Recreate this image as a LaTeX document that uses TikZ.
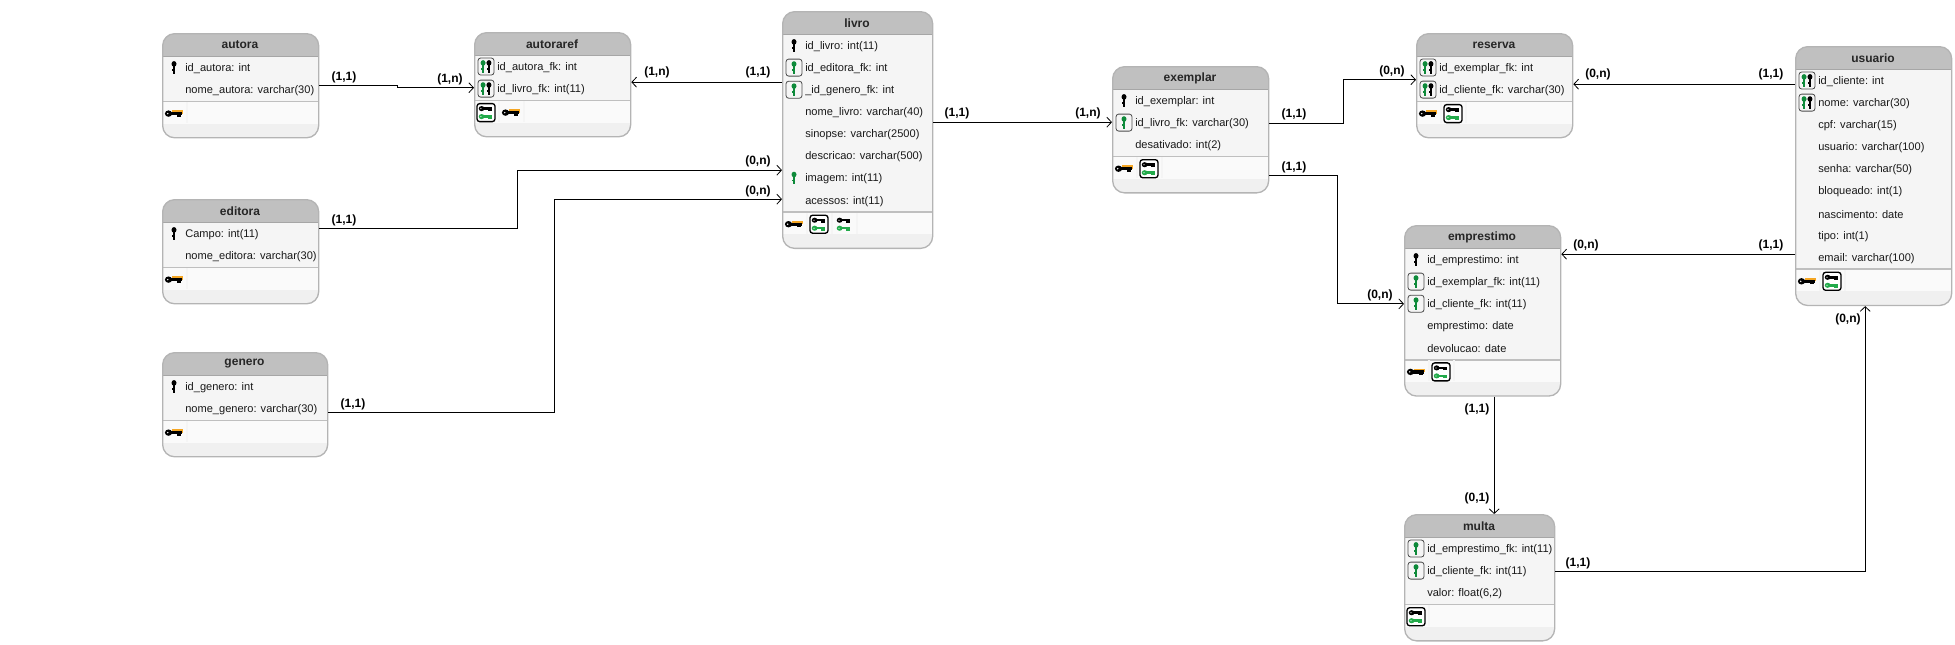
\documentclass[tikz,border=0pt]{standalone}
\usepackage{fontspec}
\setmainfont{Liberation Sans}
\usetikzlibrary{calc,arrows.meta}

\definecolor{headgray}{HTML}{C0C0C0}
\definecolor{bodygray}{HTML}{F5F5F5}
\definecolor{linegray}{HTML}{B4B4B4}
\definecolor{keygreen}{HTML}{0E8A3A}
\definecolor{lightgreen}{HTML}{22AA4A}
\definecolor{keyorange}{HTML}{F5A623}

\tikzset{
  entity/.style={
    draw=linegray,
    line width=1pt,
    rounded corners=9,
    inner sep=0pt,
    anchor=north west,
    fill=bodygray
  },
  entitytitle/.style={font=\bfseries\fontsize{9}{10}\selectfont,text=black!85},
  rowtext/.style={anchor=west,inner sep=0pt,font=\fontsize{8.3}{10}\selectfont,text=black!90},
  card/.style={font=\bfseries\fontsize{9}{10}\selectfont,inner sep=0pt,xshift=.7pt,yshift=-.8pt},
  relation/.style={draw=black,line width=.85pt,->,>={Straight Barb[length=3.5pt,width=7.5pt,line width=.6pt]}},
  keyv/.pic={
    \fill[#1] (0,-3.6) ellipse (2.5 and 2.8);
    \fill[#1] (-1.2,-2) rectangle (1.2,6);
    \fill[#1] (-2,1.6) rectangle (0,3);
  },
  keyh/.pic={
    \fill[#1] (-5.5,0) ellipse (3.6 and 3.2);
    \fill[#1] (-4,-1.6) rectangle (8,1.6);
    \fill[#1] (3,0) rectangle (7,3);
    \fill[white] (-6.3,0) circle (.8);
  },
  rownone/.pic={},
  rowpk/.pic={\pic {keyv=black};},
  rowix/.pic={\pic {keyv=keygreen};},
  rowfk/.pic={
    \draw[black!70,line width=.6pt,rounded corners=2] (-8,-8.5) rectangle (8,8.5);
    \pic {keyv=keygreen};
  },
  rowpf/.pic={
    \draw[black!70,line width=.6pt,rounded corners=2] (-8,-8.5) rectangle (8,8.5);
    \pic[xshift=-2.2pt] {keyv=keygreen};
    \pic[xshift=2.2pt] {keyv=black};
  },
  footnone/.pic={},
  footpk/.pic={
    \fill[keyorange] (-2,-3.4) rectangle (8.5,0);
    \pic {keyh=black};
  },
  footboth/.pic={
    \pic[yshift=3pt,scale=.8] {keyh=black};
    \pic[yshift=-3pt,scale=.8] {keyh=lightgreen};
  },
  footbox/.pic={
    \draw[black,line width=1pt,fill=white,rounded corners=2] (-9,-9) rectangle (9,9);
    \pic {footboth};
  }
}

\newcommand{\entity}[8]{
  \pgfmathsetmacro{\entityh}{82+22.1*(#5-1)}
  \pgfmathsetmacro{\entitysep}{46+22.1*(#5-1)}
  \node[
    entity,
    minimum width=#4*.75pt,
    minimum height=\entityh*.75pt,
    path picture={
      \coordinate (pp) at (path picture bounding box.north west);
      \fill[sharp corners,headgray] (pp) rectangle ++(#4,22);
      \fill[sharp corners,black!35] ($(pp)+(0,22)$) rectangle ++(#4,1.4);
      \fill[sharp corners,black!6] ($(pp)+(0,\entityh-14)$) rectangle ++(#4,14);
      \fill[sharp corners,white!98!black] ($(pp)+(0,\entitysep)$) rectangle ++(#4,22);
      \fill[sharp corners,black!25] ($(pp)+(0,\entitysep-1)$) rectangle ++(#4,1.6);
    }
  ] (#1) at (#2,#3) {};
  \node[entitytitle] (#1-title) at ({#2+#4/2},{#3+12}) {#6};
  \foreach \ic/\txt [count=\i] in {#7} {
    \pic at ({#2+12},{#3+34.5+22.1*(\i-1)}) {row\ic};
    \node[rowtext] (#1-\i) at ({#2+23},{#3+35.5+22.1*(\i-1)}) {\txt};
  }
  \foreach \ic [count=\i] in {#8} {
    \fill[bodygray] ({#2+25*\i-1},{#3+\entitysep+1}) rectangle ++(2,21);
    \pic at ({#2+25*\i-13},{#3+\entitysep+12.5}) {foot\ic};
  }
}

\begin{document}
\begin{tikzpicture}[x=.75pt,y=-.75pt]
  \useasboundingbox (0,0) rectangle (1955,644);

  \entity{autora}{162}{33}{156}{2}{autora}{pk/id\_autora: int,none/nome\_autora: varchar(30)}{pk}
  \entity{autoraref}{474}{32}{156}{2}{autoraref}{pf/id\_autora\_fk: int,pf/id\_livro\_fk: int(11)}{box,pk}
  \entity{editora}{162}{199}{156}{2}{editora}{pk/Campo: int(11),none/nome\_editora: varchar(30)}{pk}
  \entity{genero}{162}{352}{165}{2}{genero}{pk/id\_genero: int,none/nome\_genero: varchar(30)}{pk}
  \entity{livro}{782}{11}{150}{8}{livro}{pk/id\_livro: int(11),fk/id\_editora\_fk: int,fk/\_id\_genero\_fk: int,none/nome\_livro: varchar(40),none/sinopse: varchar(2500),none/descricao: varchar(500),ix/imagem: int(11),none/acessos: int(11)}{pk,box,both}
  \entity{exemplar}{1112}{66}{156}{3}{exemplar}{pk/id\_exemplar: int,fk/id\_livro\_fk: varchar(30),none/desativado: int(2)}{pk,box}
  \entity{reserva}{1416}{33}{156}{2}{reserva}{pf/id\_exemplar\_fk: int,pf/id\_cliente\_fk: varchar(30)}{pk,box}
  \entity{emprestimo}{1404}{225}{156}{5}{emprestimo}{pk/id\_emprestimo: int,fk/id\_exemplar\_fk: int(11),fk/id\_cliente\_fk: int(11),none/emprestimo: date,none/devolucao: date}{pk,box}
  \entity{multa}{1404}{514}{150}{3}{multa}{fk/id\_emprestimo\_fk: int(11),fk/id\_cliente\_fk: int(11),none/{valor: float(6,2)}}{box}
  \entity{usuario}{1795}{46}{156}{9}{usuario}{pf/id\_cliente: int,pf/nome: varchar(30),none/cpf: varchar(15),none/usuario: varchar(100),none/senha: varchar(50),none/bloqueado: int(1),none/nascimento: date,none/tipo: int(1),none/email: varchar(100)}{pk,box}

  \coordinate (livro-out) at ($(livro.west)+(0,-47.85)$);
  \coordinate (livro-in1) at ($(livro.west)+(0,40.15)$);
  \coordinate (livro-in2) at ($(livro.west)+(0,69.15)$);
  \coordinate (livro-ex) at ($(livro.east)+(0,-7.85)$);
  \coordinate (exemplar-res) at ($(exemplar.east)+(0,-6)$);
  \coordinate (exemplar-emp) at ($(exemplar.east)+(0,46)$);
  \coordinate (usuario-res) at ($(usuario.west)+(0,-91.9)$);
  \coordinate (usuario-emp) at ($(usuario.west)+(0,78.1)$);
  \coordinate (emprestimo-mul) at ($(emprestimo.south)+(11.5,0)$);
  \coordinate (multa-usu) at ($(multa.east)+(0,-6.6)$);

  \draw[relation] (autora.east) -- ++(78,0) |- ($(autoraref.west)+(0,3)$);
  \draw[relation] (livro-out) -- (livro-out -| autoraref.east);
  \draw[relation] ($(editora.east)+(0,-23)$) -- ++(198,0) |- (livro-in1);
  \draw[relation] ($(genero.east)+(0,8)$) -- ++(226,0) |- (livro-in2);
  \draw[relation] (livro-ex) -- (livro-ex -| exemplar.west);
  \draw[relation] (exemplar-res) -- ++(74,0) |- ($(reserva.west)+(0,-6)$);
  \draw[relation] (usuario-res) -- (usuario-res -| reserva.east);
  \draw[relation] (exemplar-emp) -- ++(68,0) |- ($(emprestimo.west)+(0,-7)$);
  \draw[relation] (usuario-emp) -- (usuario-emp -| emprestimo.east);
  \draw[relation] (emprestimo-mul) -- (emprestimo-mul |- multa.north);
  \draw[relation] (multa-usu) -| ($(usuario.south)+(-8.5,0)$);

  \node[card] (c1) at (343,76) {(1,1)};
  \node[card] (c2) at (449,78) {(1,n)};
  \node[card] (c3) at (656,71) {(1,n)};
  \node[card] (c4) at (757,71) {(1,1)};
  \node[card] (c5) at (343,219) {(1,1)};
  \node[card] (c6) at (757,160) {(0,n)};
  \node[card] (c7) at (757,190) {(0,n)};
  \node[card] (c8) at (352,403) {(1,1)};
  \node[card] (c9) at (956,112) {(1,1)};
  \node[card] (c10) at (1087,112) {(1,n)};
  \node[card] (c11) at (1293,113) {(1,1)};
  \node[card] (c12) at (1391,70) {(0,n)};
  \node[card] (c13) at (1597,73) {(0,n)};
  \node[card] (c14) at (1770,73) {(1,1)};
  \node[card] (c15) at (1293,166) {(1,1)};
  \node[card] (c16) at (1379,294) {(0,n)};
  \node[card] (c17) at (1585,244) {(0,n)};
  \node[card] (c18) at (1770,244) {(1,1)};
  \node[card] (c19) at (1847,318) {(0,n)};
  \node[card] (c20) at (1476,408) {(1,1)};
  \node[card] (c21) at (1476,497) {(0,1)};
  \node[card] (c22) at (1577,562) {(1,1)};
\end{tikzpicture}
\end{document}
